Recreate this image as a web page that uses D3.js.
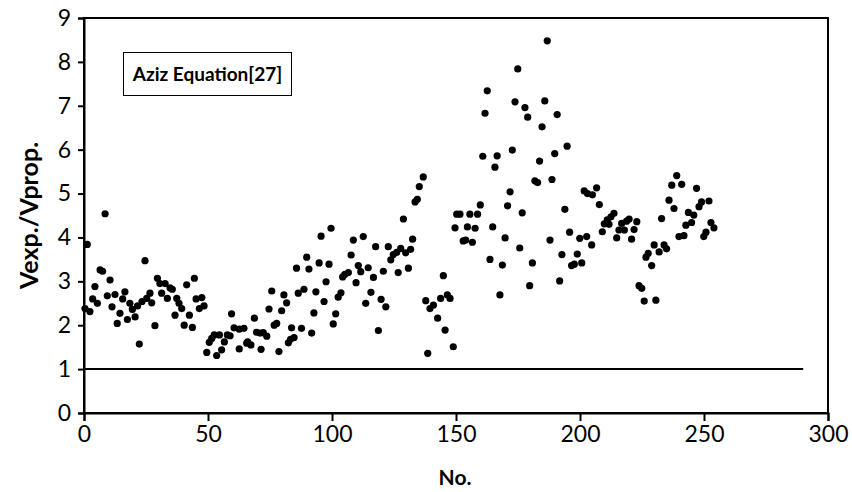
<!DOCTYPE html>
<html>
<head>
<meta charset="utf-8">
<script src="https://cdn.jsdelivr.net/npm/d3@7"></script>
<style>
  html, body { margin: 0; padding: 0; background: #fff; }
  svg { display: block; }
  text { font-family: Lato, "Open Sans", sans-serif; }
</style>
</head>
<body>
<svg id="chart" width="852" height="492"></svg>
<script>
// ---- data ----
const noValues = [
  0.4,1.3,2.4,3.5,4.4,5.4,6.5,7.5,8.5,9.4,10.5,11.3,12.5,13.4,14.5,15.6,16.5,17.5,18.5,19.5,
  20.6,21.6,22.3,23.4,24.6,25.3,26.6,27.3,28.6,29.6,30.6,31.3,32.7,33.6,34.7,35.6,36.7,37.4,38.3,39.4,
  40.4,41.4,42.5,43.7,44.5,45.2,46.5,47.5,48.4,49.5,50.5,51.5,52.5,53.5,54.6,55.5,56.6,57.8,58.9,59.5,
  60.5,62.6,64.5,62.6,65.6,
  66.0,67.3,68.7,69.6,71.0,72.3,73.7,71.4,74.6,75.7,76.7,77.7,78.6,79.7,80.6,81.7,82.4,83.3,84.7,83.7,
  85.7,86.4,88.7,87.7,89.8,90.7,91.8,92.7,93.5,94.8,95.6,96.8,97.6,98.8,99.6,100.5,101.5,102.5,103.6,104.3,
  105.2,106.6,107.7,108.6,109.7,110.6,111.6,112.6,113.6,114.6,115.7,116.7,117.6,118.7,119.8,120.7,121.7,122.7,123.7,124.7,
  126.1,126.7,127.7,128.8,129.7,131.7,130.8,132.5,133.5,134.4,135.2,136.8,
  137.8,138.6,139.5,140.9,142.6,143.8,144.9,145.6,146.5,147.6,148.9,149.6,150.3,151.6,152.9,153.9,154.6,155.6,156.6,157.7,
  158.7,159.8,160.8,161.7,162.6,163.7,164.8,165.7,166.6,167.7,168.7,169.8,170.8,171.8,172.7,173.8,174.9,175.7,176.7,177.8,
  178.9,179.7,180.8,181.8,182.9,183.7,184.7,185.8,186.8,187.9,188.7,189.8,190.8,191.8,192.7,193.9,194.8,195.8,196.6,197.7,
  198.9,199.9,200.7,201.7,202.7,203.0,
  205.0,206.7,207.8,204.7,209.0,209.8,211.0,212.5,213.7,211.7,214.8,215.7,216.8,217.9,218.8,219.8,220.8,221.8,222.9,223.8,
  224.9,225.9,226.6,227.5,228.9,229.9,230.6,231.9,232.9,233.9,234.9,235.9,237.0,237.9,239.0,239.9,241.0,241.9,242.7,243.7,
  245.0,245.9,247.0,248.0,249.0,249.9,250.8,252.0,252.8,254.0
];
const ratioValues = [
  2.38,3.84,2.31,2.60,2.88,2.50,3.26,3.23,4.54,2.67,3.03,2.42,2.70,2.04,2.27,2.60,2.76,2.13,2.50,2.36,
  2.19,2.44,1.57,2.54,3.47,2.61,2.73,2.51,1.99,3.07,2.95,2.73,2.95,2.61,2.85,2.82,2.23,2.61,2.50,2.38,
  2.00,2.92,2.23,1.95,3.07,2.60,2.38,2.63,2.44,1.38,1.61,1.70,1.78,1.31,1.78,1.44,1.62,1.78,1.76,2.26,
  1.94,1.91,1.93,1.46,1.59,
  1.62,1.55,2.16,1.84,1.82,1.83,1.75,1.45,2.37,2.78,2.00,2.04,1.40,2.33,2.69,2.51,1.60,1.68,1.72,1.94,
  3.30,2.73,2.82,1.93,3.55,3.28,1.82,2.28,2.76,3.42,4.03,2.54,2.99,3.39,4.21,2.03,2.26,2.64,2.74,3.10,
  3.16,3.20,3.60,3.94,2.97,3.36,3.22,4.02,2.50,3.31,2.75,3.09,3.79,1.88,2.59,3.23,2.42,3.79,3.49,3.61,
  3.66,3.20,3.75,4.42,3.65,3.73,3.30,3.96,4.81,4.87,5.16,5.38,
  2.56,1.36,2.38,2.46,2.16,2.61,3.13,1.89,2.69,2.61,1.51,4.22,4.53,4.53,3.92,3.94,4.24,4.53,3.89,4.21,
  4.53,4.74,5.85,6.83,7.34,3.50,4.24,5.60,5.86,2.69,3.37,3.99,4.72,5.04,5.99,7.09,7.84,3.76,4.56,6.96,
  6.74,2.90,3.42,5.29,5.25,5.74,6.52,7.11,8.48,3.94,5.32,5.91,6.80,3.01,3.61,4.64,6.08,4.12,3.36,3.39,
  3.62,3.98,3.42,5.06,4.02,5.00,
  4.97,5.13,4.75,3.83,4.13,4.31,4.40,4.47,4.55,4.30,3.99,4.17,4.32,4.17,4.37,4.42,3.96,4.18,4.36,2.90,
  2.84,2.55,3.55,3.64,3.36,3.83,2.57,3.67,4.43,3.83,3.74,4.85,5.19,4.66,5.41,4.02,5.21,4.04,4.28,4.57,
  4.34,4.51,5.12,4.70,4.81,4.02,4.12,4.83,4.34,4.22
];
const referenceLineX = [0, 290];
const referenceLineY = 1;
const xTicks = [0, 50, 100, 150, 200, 250, 300];
const yTicks = [0, 1, 2, 3, 4, 5, 6, 7, 8, 9];
const legendText = "Aziz Equation[27]";
const xTitle = "No.";
const yTitle = "Vexp./Vprop.";

// ---- layout ----
const plot = { left: 84, right: 828, top: 18, bottom: 413 };
const svg = d3.select("#chart");
const font = "Lato, 'Open Sans', sans-serif";

const x = d3.scaleLinear().domain([0, 300]).range([plot.left, plot.right]);
const y = d3.scaleLinear().domain([0, 9]).range([plot.bottom, plot.top]);

// frame
svg.append("rect")
  .attr("x", plot.left).attr("y", plot.top)
  .attr("width", plot.right - plot.left).attr("height", plot.bottom - plot.top)
  .attr("fill", "none").attr("stroke", "#000").attr("stroke-width", 2);

// axes
const xAxis = svg.append("g")
  .attr("transform", `translate(0,${plot.bottom})`)
  .call(d3.axisBottom(x).tickValues(xTicks).tickSize(8).tickPadding(5).tickFormat(d3.format("d")));
const yAxis = svg.append("g")
  .attr("transform", `translate(${plot.left},0)`)
  .call(d3.axisLeft(y).tickValues(yTicks).tickSize(6).tickPadding(7).tickFormat(d3.format("d")));

[xAxis, yAxis].forEach(g => {
  g.select(".domain").attr("stroke", "#000").attr("stroke-width", 2);
  g.selectAll(".tick line").attr("stroke", "#000").attr("stroke-width", 2);
  g.selectAll(".tick text").attr("fill", "#000").style("font-size", "23px")
    .style("font-family", font);
});

// reference line at 1
svg.append("line")
  .attr("x1", x(referenceLineX[0])).attr("x2", x(referenceLineX[1]))
  .attr("y1", y(referenceLineY)).attr("y2", y(referenceLineY))
  .attr("stroke", "#000").attr("stroke-width", 2);

// points
svg.append("g").selectAll("circle")
  .data(noValues.map((n, i) => ({ n, v: ratioValues[i] })))
  .join("circle")
  .attr("cx", d => x(d.n))
  .attr("cy", d => y(d.v))
  .attr("r", 3.6)
  .attr("fill", "#000");

// legend box
const lg = svg.append("g");
lg.append("rect")
  .attr("x", 123.5).attr("y", 52.5).attr("width", 168).attr("height", 43)
  .attr("fill", "#fff").attr("stroke", "#000").attr("stroke-width", 1);
lg.append("text")
  .attr("x", 207.5).attr("y", 81)
  .attr("text-anchor", "middle")
  .style("font-family", font)
  .style("font-size", "19px").style("font-weight", "bold")
  .text(legendText);

// axis titles
svg.append("text")
  .attr("transform", `translate(38,${(plot.top + plot.bottom) / 2}) rotate(-90)`)
  .attr("text-anchor", "middle")
  .style("font-family", font)
  .style("font-size", "25px").style("font-weight", "bold")
  .text(yTitle);
svg.append("text")
  .attr("x", 455).attr("y", 485)
  .attr("text-anchor", "middle")
  .style("font-family", font)
  .style("font-size", "21px").style("font-weight", "bold")
  .text(xTitle);
</script>
</body>
</html>
